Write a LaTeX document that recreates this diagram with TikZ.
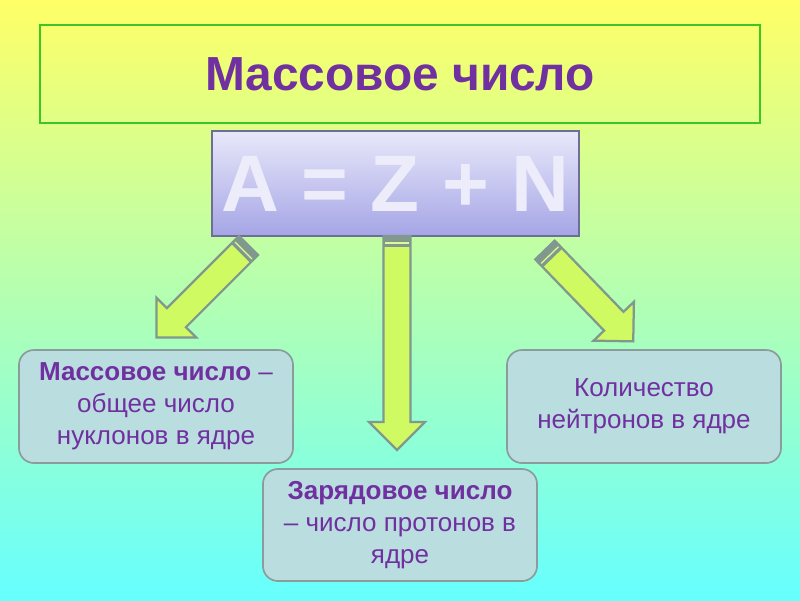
\documentclass[tikz,border=0pt]{standalone}
\usepackage{fontspec}
\setmainfont{Liberation Sans}
\definecolor{bgtop}{RGB}{255,255,102}
\definecolor{bgmid}{RGB}{182,255,170}
\definecolor{bgbot}{RGB}{102,255,255}
\definecolor{titlegreen}{RGB}{60,196,40}
\definecolor{textpurple}{RGB}{112,48,160}
\definecolor{formtop}{RGB}{232,232,250}
\definecolor{formbot}{RGB}{165,165,230}
\definecolor{formline}{RGB}{110,110,150}
\definecolor{formtext}{RGB}{236,236,250}
\definecolor{boxfill}{RGB}{186,222,224}
\definecolor{boxline}{RGB}{140,156,156}
\definecolor{arrowfill}{RGB}{208,250,98}
\definecolor{arrowline}{RGB}{128,152,142}
\tikzset{
  infobox/.style={draw=boxline, fill=boxfill, rounded corners=0.375cm, line width=1.2pt,
    minimum width=6.85cm, minimum height=2.8cm, text=textpurple, align=center,
    font=\fontsize{18.5}{22.8}\selectfont},
  arrowbody/.style={draw=arrowline, fill=arrowfill, line width=1.6pt, line join=miter}
}
% block arrow: tail coordinate, angle, length (px)
\newcommand{\blockarrow}[3]{%
  \begin{scope}[shift={(#1)}, rotate=#2]
    \filldraw[arrowbody] (0,-13.5) -- (#3-28,-13.5) -- (#3-28,-28) -- (#3,0)
      -- (#3-28,28) -- (#3-28,13.5) -- (0,13.5) -- cycle;
    \fill[arrowline] (0,-14.3) rectangle (11,14.3);
    \draw[arrowfill!70!white, line width=0.9pt] (7,-12) -- (7,12);
  \end{scope}}

\begin{document}
\begin{tikzpicture}[x=0.025cm, y=-0.025cm]
  \useasboundingbox (0,0) rectangle (800,600);
  \shade[top color=bgtop, middle color=bgmid, bottom color=bgbot] (0,0) rectangle (800,600);

  % title
  \node[draw=titlegreen, line width=1.8pt, minimum width=18cm, minimum height=2.45cm,
    text=textpurple, font=\fontsize{34}{36}\selectfont\bfseries] (title) at (400,74) {Массовое число};

  % formula
  \node[draw=formline, line width=0.8pt, top color=formtop, bottom color=formbot,
    minimum width=9.175cm, minimum height=2.625cm, text=formtext,
    font=\fontsize{57}{60}\selectfont\bfseries] (formula) at (395.5,183.5) {A = Z + N};

  % arrows
  \coordinate (tailL) at (248.5,245.5);
  \coordinate (tailM) at (397,236);
  \coordinate (tailR) at (545,250);
  \blockarrow{tailL}{225}{130}
  \blockarrow{tailM}{270}{214}
  \blockarrow{tailR}{314}{127}

  % boxes
  \node[infobox, minimum height=2.825cm] (mass) at (156,406.5)
    {\textbf{Массовое число} –\\общее число\\нуклонов в ядре};
  \node[infobox] (charge) at (400,525)
    {\textbf{Зарядовое число}\\– число протонов в\\ядре};
  \node[infobox, minimum height=2.825cm] (neutr) at (644,406.5)
    {Количество\\нейтронов в ядре};
\end{tikzpicture}
\end{document}
